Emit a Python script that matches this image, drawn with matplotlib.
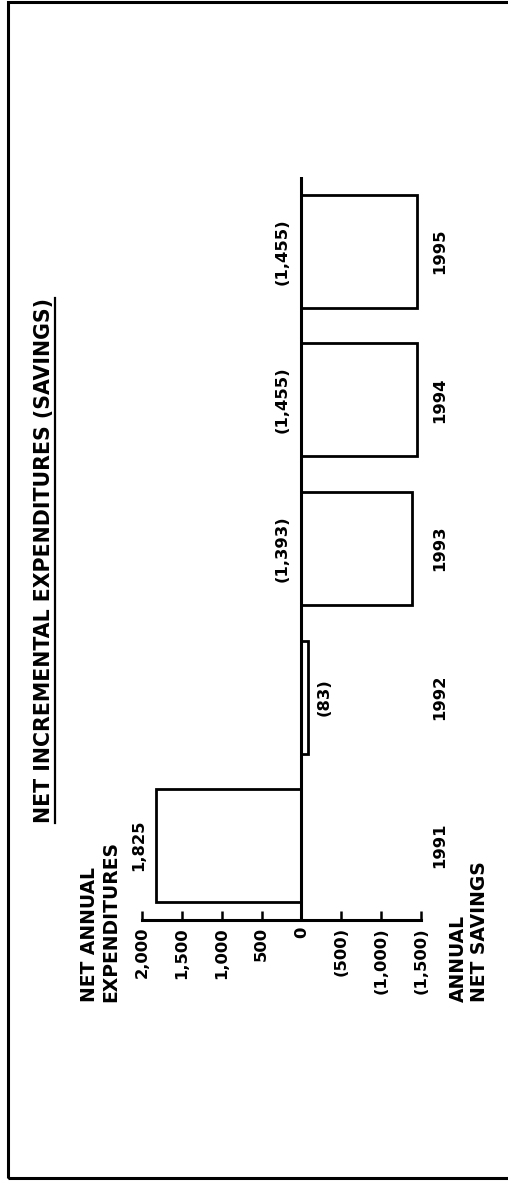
import numpy as np
import matplotlib
matplotlib.use("Agg")
import matplotlib.pyplot as plt
from matplotlib.lines import Line2D

# data
years = ["1991", "1992", "1993", "1994", "1995"]
values = [1825, -83, -1393, -1455, -1455]
tick_vals = [2000, 1500, 1000, 500, 0, -500, -1000, -1500]
tick_text = ["2,000", "1,500", "1,000", "500", "0", "(500)", "(1,000)", "(1,500)"]
title = "NET INCREMENTAL EXPENDITURES (SAVINGS)"
top_caption = "NET ANNUAL\nEXPENDITURES"
bottom_caption = "ANNUAL\nNET SAVINGS"

def fmt(v):
	s = "{:,}".format(abs(v))
	return "(" + s + ")" if v < 0 else s

plt.rcParams['font.family'] = ['DejaVu Sans']
plt.rcParams['font.weight'] = 'bold'

W, H = 508, 1184
fig = plt.figure(figsize=(W/100, H/100), dpi=100)

# chart is drawn turned on its side: values run right-to-left, years bottom-to-top
ax = fig.add_axes([142/W, 1-920/H, 279/W, (920-177)/H])
pos = np.arange(len(years))
ax.barh(pos, values, height=0.76, color='white', edgecolor='black', linewidth=2, zorder=2)
ax.axvline(0, color='black', lw=2.2, zorder=3)

ax.set_xlim(2000, -1500)
ax.set_ylim(-0.5, len(years)-0.5)

for s in ['top', 'right', 'left']:
	ax.spines[s].set_visible(False)
ax.spines['bottom'].set_linewidth(2.2)

ax.set_xticks(tick_vals)
ax.set_xticklabels(tick_text, rotation=90, fontsize=11.8, fontweight='bold')
ax.tick_params(axis='x', direction='in', length=6.5, width=1.8, pad=5)

ax.yaxis.tick_right()
ax.set_yticks(pos)
ax.set_yticklabels(years, rotation=90, fontsize=11.8, fontweight='bold', va='center', ha='left')
ax.tick_params(axis='y', length=0, pad=8)

# bar value labels
for i, v in enumerate(values):
	if v < -500:
		xy, dx, ha = (0, i), -8.5, 'right'
	elif v < 0:
		xy, dx, ha = (v, i), 6.5, 'left'
	else:
		xy, dx, ha = (v, i), -7, 'right'
	ax.annotate(fmt(v), xy=xy, xytext=(dx, 0), textcoords='offset points',
		rotation=90, ha=ha, va='center', fontsize=11.8, fontweight='bold')

# captions
fig.text(100/W, 1-1002/H, top_caption, rotation=90, ha='center', va='bottom',
	multialignment='left', fontsize=13.5, fontweight='bold', linespacing=1.1)
fig.text(469/W, 1-1002/H, bottom_caption, rotation=90, ha='center', va='bottom',
	multialignment='left', fontsize=13.5, fontweight='bold', linespacing=1.1)

t = fig.text(44/W, 1-560/H, title, rotation=90, ha='center', va='center',
	fontsize=14.8, fontweight='bold')

# underline the title
fig.canvas.draw()
bb = t.get_window_extent().transformed(fig.transFigure.inverted())
fig.add_artist(Line2D([bb.x1 + 0.5/W, bb.x1 + 0.5/W], [bb.y0, bb.y1], color='black', lw=1.6))

# page border (right side runs off the page)
fig.add_artist(plt.Rectangle((8/W, 6/H), 1.2, 1-8/H, fill=False, lw=2.2,
	edgecolor='black', transform=fig.transFigure, clip_on=False))

fig.savefig("out.png", dpi=100)
